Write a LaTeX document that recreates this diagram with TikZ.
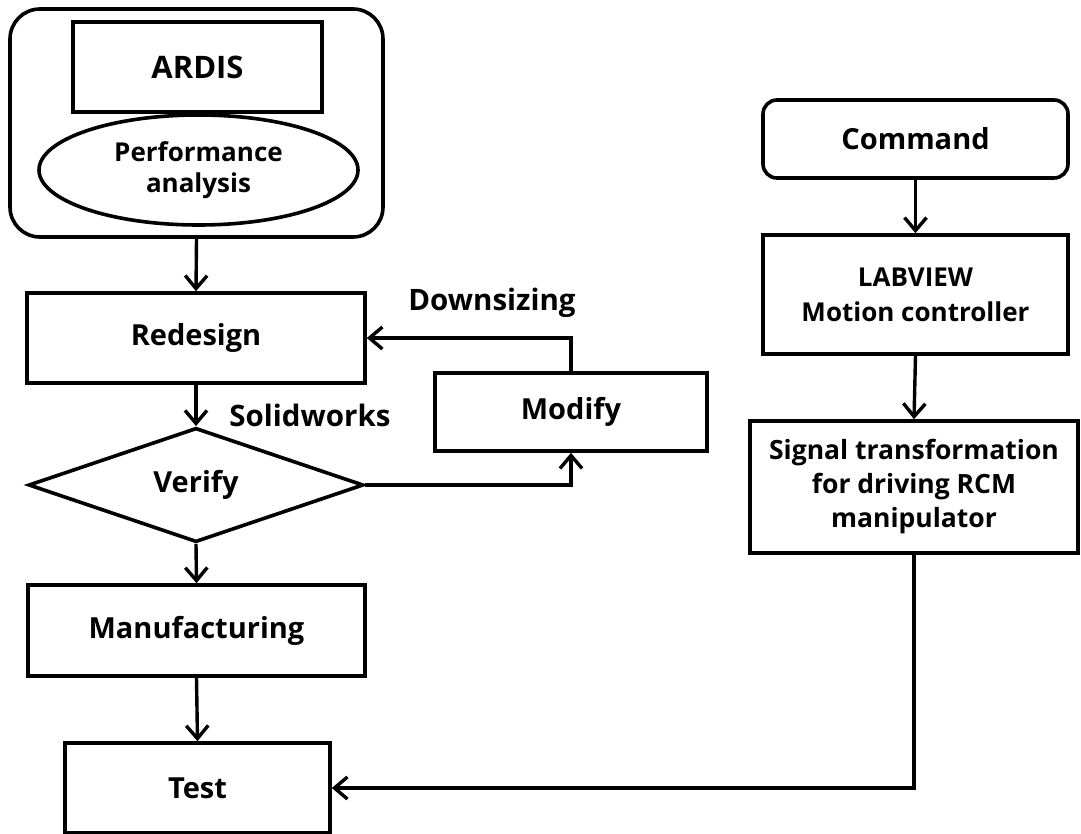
\documentclass[tikz,border=0pt]{standalone}
\usepackage{fontspec}
\setmainfont{Open Sans}
\usetikzlibrary{arrows.meta,shapes.geometric}

\tikzset{
  base/.style={draw, line width=3.6pt, inner sep=0pt, align=center,
    font=\fontsize{29}{35}\selectfont\bfseries},
  box/.style={base, rectangle},
  rbox/.style={base, rectangle, rounded corners=#1},
  oval/.style={base, ellipse},
  decision/.style={base, diamond},
  lbl/.style={font=\fontsize{29.5}{35}\selectfont\bfseries, inner sep=0pt},
  arr/.style={line width=3.4pt, -{Straight Barb[length=13pt,width=22pt,line width=3.4pt]}}
}

\begin{document}
\begin{tikzpicture}[x=1pt,y=-1pt]
\useasboundingbox (0,0) rectangle (1081,834);

% design branch
\node[rbox=30pt, minimum width=373pt, minimum height=228pt] (outer) at (196.5,123) {};
\node[box, minimum width=249pt, minimum height=90pt,
      font=\fontsize{31}{35}\selectfont\bfseries] (ardis) at (197.5,67) {ARDIS};
\node[oval, minimum width=319pt, minimum height=110pt,
      font=\fontsize{26}{31}\selectfont\bfseries] (perf) at (198.5,170) {Performance\\analysis};
\node[box, minimum width=338pt, minimum height=90pt] (redesign) at (196,338) {Redesign};
\node[box, minimum width=272pt, minimum height=78pt] (modify) at (571,412) {Modify};
\node[decision, minimum width=335pt, minimum height=90pt] (verify) at (196,485) {Verify};
\node[box, minimum width=337pt, minimum height=91pt] (manuf) at (196.5,630.5) {Manufacturing};
\node[box, minimum width=265pt, minimum height=90pt] (test) at (197.5,788) {Test};

\node[lbl] (down) at (492,303) {Downsizing};
\node[lbl] (solid) at (310,415) {Solidworks};

% control branch
\node[rbox=14pt, minimum width=305pt, minimum height=78pt] (command) at (915.5,139) {Command};
\node[box, minimum width=305pt, minimum height=119pt,
      font=\fontsize{26}{35}\selectfont\bfseries] (labview) at (915.5,294.5) {LABVIEW\\Motion controller};
\node[box, minimum width=328pt, minimum height=132pt,
      font=\fontsize{26.5}{34}\selectfont\bfseries] (signal) at (914,487) {Signal transformation\\for driving RCM\\manipulator};

% connectors
\draw[arr] (outer.south) -- (redesign.north);
\draw[arr] (redesign.south) -- (verify.north);
\draw[arr] (verify.east) -| (modify.south);
\draw[arr] (modify.north) |- (redesign.east);
\draw[arr] (verify.south) -- (manuf.north);
\draw[arr] (manuf.south) -- (test.north);
\draw[arr] (command.south) -- (labview.north);
\draw[arr] (labview.south) -- (signal.north);
\draw[arr] (signal.south) |- (test.east);
\end{tikzpicture}
\end{document}
